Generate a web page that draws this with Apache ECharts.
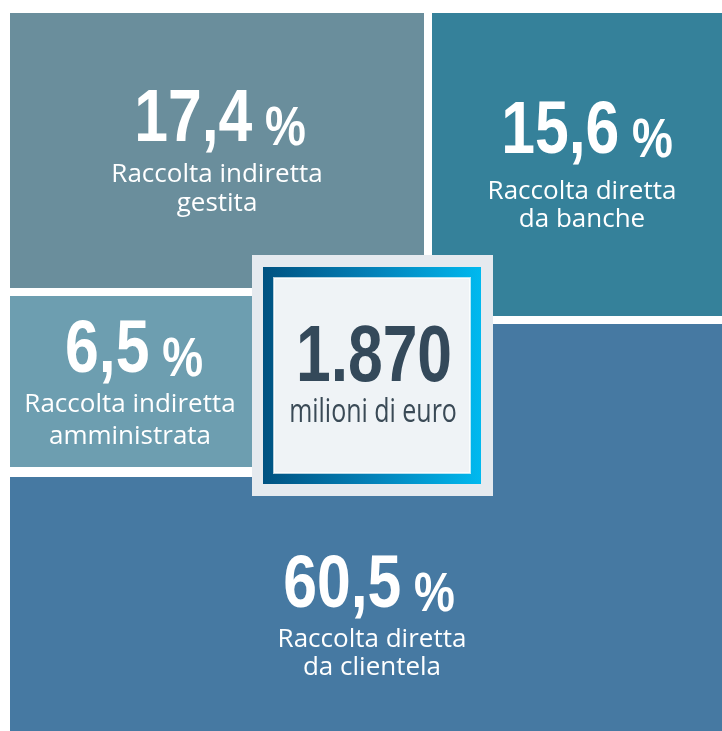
<!DOCTYPE html>
<html>
<head>
<meta charset="utf-8">
<style>
  html, body { margin: 0; padding: 0; background: #ffffff; }
  #chart { width: 722px; height: 731px; }
</style>
<script src="https://cdn.jsdelivr.net/npm/echarts@6/dist/echarts.min.js"></script>
</head>
<body>
<div id="chart"></div>
<script>
  // dati
  const voci = ['Raccolta indiretta\ngestita', 'Raccolta diretta\nda banche', 'Raccolta indiretta\namministrata', 'Raccolta diretta\nda clientela']
  const quote = [17.4, 15.6, 6.5, 60.5] // %
  const totale = [1870]
  const unita = 'milioni di euro'

  // disposizione dei riquadri (in unità degli assi = pixel della pagina)
  const celle = [
    { rect: [10, 13, 424, 288], num: [220, 121], lab: [217, 175], lh: 29, color: '#6a8e9c' },
    { rect: [432, 13, 722, 316], num: [587, 133], lab: [582, 192], lh: 28, color: '#35819a' },
    { rect: [10, 296, 252, 467], num: [134, 352], lab: [130, 405], lh: 32, color: '#6d9eb0' },
    { poly: [[400, 324], [722, 324], [722, 731], [10, 731], [10, 477], [400, 477]], num: [369, 587], lab: [372, 640], lh: 28, color: '#4679a2' }
  ]
  const box = { outer: [252, 255, 493, 496], frame: [263, 267, 481, 484], inner: [274, 278, 470, 473], num: [374, 359], unit: [373, 413] }

  const numFont = '"Liberation Sans", Arial, sans-serif'
  const txtFont = '"Open Sans", "Noto Sans", sans-serif'
  const narrow = 0.82 // compressione orizzontale per imitare il carattere condensato

  function fmt(v) {
    return v.toFixed(1).replace('.', ',')
  }
  function fmtTot(v) {
    return String(v).replace(/\B(?=(\d{3})+(?!\d))/g, '.')
  }

  const chart = echarts.init(document.getElementById('chart'), null, { renderer: 'canvas' })

  function rectShape(api, r) {
    const p0 = api.coord([r[0], r[1]])
    const p1 = api.coord([r[2], r[3]])
    return { x: p0[0], y: p0[1], width: p1[0] - p0[0], height: p1[1] - p0[1] }
  }

  const option = {
    animation: false,
    grid: { left: 0, top: 0, right: 0, bottom: 0 },
    xAxis: { type: 'value', min: 0, max: 722, show: false },
    yAxis: { type: 'value', min: 0, max: 731, inverse: true, show: false },
    series: [
      {
        type: 'custom',
        coordinateSystem: 'cartesian2d',
        data: quote.map((v, i) => [i, v]),
        renderItem(params, api) {
          const i = api.value(0)
          const v = api.value(1)
          const c = celle[i]
          const children = []
          if (c.poly) {
            children.push({
              type: 'polygon',
              shape: { points: c.poly.map(p => api.coord(p)) },
              style: { fill: c.color }
            })
          } else {
            children.push({
              type: 'rect',
              shape: rectShape(api, c.rect),
              style: { fill: c.color }
            })
          }
          const pn = api.coord(c.num)
          children.push({
            type: 'text',
            x: pn[0],
            y: pn[1],
            scaleX: narrow,
            style: {
              text: '{n|' + fmt(v) + '}{p| %}',
              align: 'center',
              verticalAlign: 'middle',
              rich: {
                n: { fontSize: 74, fontWeight: 'bold', fontFamily: numFont, fill: '#ffffff', verticalAlign: 'bottom' },
                p: { fontSize: 56, fontWeight: 'bold', fontFamily: numFont, fill: '#ffffff', verticalAlign: 'bottom' }
              }
            }
          })
          const pl = api.coord(c.lab)
          children.push({
            type: 'text',
            x: pl[0],
            y: pl[1] - c.lh / 2,
            style: {
              text: voci[i],
              align: 'center',
              verticalAlign: 'top',
              fontSize: 26,
              lineHeight: c.lh,
              fontFamily: txtFont,
              fill: '#ffffff'
            }
          })
          return { type: 'group', children: children }
        }
      },
      {
        // riquadro centrale con il totale
        type: 'custom',
        coordinateSystem: 'cartesian2d',
        z: 5,
        data: totale.map(v => [v]),
        renderItem(params, api) {
          const v = api.value(0)
          const pn = api.coord(box.num)
          const pu = api.coord(box.unit)
          return {
            type: 'group',
            children: [
              { type: 'rect', shape: rectShape(api, box.outer), style: { fill: '#e5eaef' } },
              {
                type: 'rect',
                shape: rectShape(api, box.frame),
                style: {
                  fill: new echarts.graphic.LinearGradient(0, 0, 1, 0, [
                    { offset: 0, color: '#005281' },
                    { offset: 0.5, color: '#0381b8' },
                    { offset: 1, color: '#00b9ef' }
                  ])
                }
              },
              { type: 'rect', shape: rectShape(api, box.inner), style: { fill: '#eff3f6', stroke: 'rgba(255,255,255,0.7)', lineWidth: 2 } },
              {
                type: 'text', x: pn[0], y: pn[1], scaleX: 0.78,
                style: { text: fmtTot(v), align: 'center', verticalAlign: 'middle', fontSize: 80, fontWeight: 'bold', fontFamily: numFont, fill: '#34495a' }
              },
              {
                type: 'text', x: pu[0], y: pu[1], scaleX: 0.78,
                style: { text: unita, align: 'center', verticalAlign: 'middle', fontSize: 32, fontFamily: txtFont, fill: '#3a4a56' }
              }
            ]
          }
        }
      }
    ]
  }

  chart.setOption(option)
</script>
</body>
</html>
